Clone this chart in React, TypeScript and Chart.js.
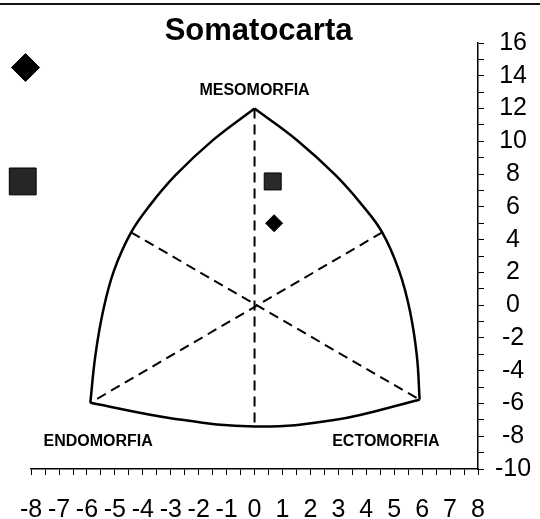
import React, { useEffect, useRef } from "react";
import { Chart, registerables } from "chart.js";

Chart.register(...registerables);

const FONT = '"Liberation Sans", Arial, Helvetica, sans-serif';

// Somatochart outline
const leftArc = [
  { x: 0, y: 12 },
  { x: -1.49, y: 10.07 },
  { x: -2.83, y: 7.93 },
  { x: -3.75, y: 6.09 },
  { x: -4.42, y: 4.44 },
  { x: -5.03, y: 2.12 },
  { x: -5.42, y: -0.33 },
  { x: -5.7, y: -3.08 },
  { x: -5.88, y: -5.96 },
];
const rightArc = [
  { x: 0, y: 12 },
  { x: 1.52, y: 10.07 },
  { x: 2.9, y: 7.93 },
  { x: 3.86, y: 6.09 },
  { x: 4.57, y: 4.44 },
  { x: 5.17, y: 2.12 },
  { x: 5.56, y: -0.33 },
  { x: 5.81, y: -3.08 },
  { x: 5.91, y: -5.77 },
];
const bottomArc = [
  { x: -5.88, y: -5.96 },
  { x: -3, y: -6.9 },
  { x: 0, y: -7.4 },
  { x: 2.9, y: -7.0 },
  { x: 5.91, y: -5.77 },
];
const dashVertical = [
  { x: 0, y: 12 },
  { x: 0, y: -7.4 },
];
const dashDiagA = [
  { x: -4.42, y: 4.44 },
  { x: 5.91, y: -5.77 },
];
const dashDiagB = [
  { x: 4.57, y: 4.44 },
  { x: -5.88, y: -5.96 },
];

// Plotted points
const bigDiamond = [{ x: -8.2, y: 14.5 }];
const bigSquare = [{ x: -8.3, y: 7.55 }];
const smallSquare = [{ x: 0.65, y: 7.55 }];
const smallDiamond = [{ x: 0.7, y: 5.0 }];

// Title and axis names, with their anchors (data units)
const titleText = "Somatocarta";
const axisNames = ["MESOMORFIA", "ENDOMORFIA", "ECTOMORFIA"];
const axisNameX = [0, -5.6, 4.7];
const axisNameY = [13.1, -8.35, -8.35];

const X_MIN = -8;
const X_MAX = 8;
const Y_MIN = -10;
const Y_MAX = 16;

const textPlugin = {
  id: "somatoText",
  afterDatasetsDraw(chart: any) {
    const { ctx, scales, chartArea } = chart;
    ctx.save();
    ctx.fillStyle = "#000";
    ctx.textAlign = "center";
    ctx.textBaseline = "middle";
    ctx.font = `bold 16px ${FONT}`;
    axisNames.forEach((name, i) => {
      ctx.fillText(
        name,
        scales.x.getPixelForValue(axisNameX[i]),
        scales.y.getPixelForValue(axisNameY[i])
      );
    });
    ctx.font = `bold 31px ${FONT}`;
    ctx.fillText(titleText, (chartArea.left + chartArea.right) / 2 + 4, chartArea.top - 12);
    ctx.restore();
  },
  afterDraw(chart: any) {
    const { ctx, width } = chart;
    ctx.save();
    ctx.fillStyle = "#111";
    ctx.fillRect(0, 3, width, 2);
    ctx.restore();
  },
};

export default function App() {
  const ref = useRef<HTMLCanvasElement | null>(null);

  useEffect(() => {
    if (!ref.current) return;
    const lineDs = (data: any[], dashed: boolean) => ({
      data,
      showLine: true,
      borderColor: "#000",
      borderWidth: dashed ? 2 : 2.5,
      borderDash: dashed ? [10, 6] : [],
      pointRadius: 0,
      tension: dashed ? 0 : 0.4,
      fill: false,
      clip: false as any,
    });
    const ptDs = (data: any[], style: string, r: number, color: string) => ({
      data,
      showLine: false,
      pointStyle: style,
      pointRadius: r,
      pointBackgroundColor: color,
      pointBorderColor: "#000",
      pointBorderWidth: 1,
      clip: false as any,
    });

    const chart = new Chart(ref.current, {
      type: "scatter",
      data: {
        datasets: [
          lineDs(leftArc, false),
          lineDs(rightArc, false),
          lineDs(bottomArc, false),
          lineDs(dashVertical, true),
          lineDs(dashDiagA, true),
          lineDs(dashDiagB, true),
          ptDs(bigDiamond, "rectRot", 14, "#000"),
          ptDs(bigSquare, "rect", 19, "#262626"),
          ptDs(smallSquare, "rect", 12, "#2a2a2a"),
          ptDs(smallDiamond, "rectRot", 8.5, "#000"),
        ] as any,
      },
      options: {
        responsive: false,
        animation: false,
        devicePixelRatio: 1,
        layout: { padding: { left: 26, right: 0, top: 43, bottom: 0 } },
        plugins: {
          legend: { display: false },
          tooltip: { enabled: false },
          title: { display: false },
        },
        scales: {
          x: {
            type: "linear",
            position: "bottom",
            min: X_MIN,
            max: X_MAX,
            ticks: {
              stepSize: 0.5,
              autoSkip: false,
              maxRotation: 0,
              color: "#000",
              padding: 20,
              font: { family: FONT, size: 25 },
              callback: (v: any) => (Number.isInteger(v) ? String(v) : ""),
            },
            grid: {
              drawOnChartArea: false,
              drawTicks: true,
              tickLength: 6,
              color: "#000",
              lineWidth: 1,
            },
            border: { display: true, color: "#000", width: 1.5 },
            afterFit: (s: any) => {
              s.height = 50;
            },
          },
          y: {
            type: "linear",
            position: "right",
            min: Y_MIN,
            max: Y_MAX,
            ticks: {
              stepSize: 1,
              autoSkip: false,
              color: "#000",
              padding: 11,
              crossAlign: "center",
              font: { family: FONT, size: 25 },
              callback: (v: any) => (v % 2 === 0 ? String(v) : ""),
            },
            grid: {
              drawOnChartArea: false,
              drawTicks: true,
              tickLength: 6,
              color: "#000",
              lineWidth: 1,
            },
            border: { display: true, color: "#000", width: 1.5 },
            afterFit: (s: any) => {
              s.width = 62;
            },
          },
        },
      } as any,
      plugins: [textPlugin],
    });
    return () => chart.destroy();
  }, []);

  return (
    <div style={{ position: "fixed", left: 0, top: 0, width: 540, height: 519, background: "#fff" }}>
      <canvas ref={ref} width={540} height={519} style={{ display: "block" }} />
    </div>
  );
}
